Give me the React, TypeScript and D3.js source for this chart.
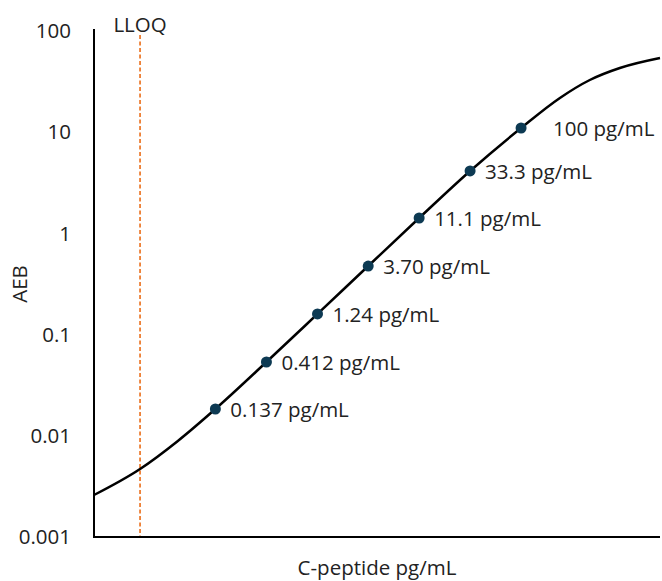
import React, { useRef, useEffect } from 'react';
import * as d3 from 'd3';

// calibrator concentrations (pg/mL) and their AEB
const calConc = [0.137, 0.412, 1.24, 3.70, 11.1, 33.3, 100];
const calLabels = ['0.137 pg/mL', '0.412 pg/mL', '1.24 pg/mL', '3.70 pg/mL', '11.1 pg/mL', '33.3 pg/mL', '100 pg/mL'];
const calAEB = [0.0184, 0.0536, 0.160, 0.476, 1.42, 4.14, 11.0];

// fitted curve
const fitConc = [0.01, 0.027, 0.061, 0.137, 0.412, 1.24, 3.70, 11.1, 33.3, 100, 231, 440, 841, 2000];
const fitAEB = [0.0026, 0.0047, 0.0089, 0.0184, 0.0536, 0.160, 0.476, 1.42, 4.14, 11.0, 21.8, 32.8, 43.1, 54.1];

const lloq = 0.027;

const yTicks = [100, 10, 1, 0.1, 0.01, 0.001];
const yTickLabels = ['100', '10', '1', '0.1', '0.01', '0.001'];

const App = () => {
    const svgRef = useRef<SVGSVGElement>(null);

    useEffect(() => {
        const width = 662;
        const height = 581;
        const margin = { top: 31, right: 2, bottom: 44, left: 94 };
        const font = "'Open Sans', sans-serif";
        const fs = 20.5;

        const svg = d3.select(svgRef.current);
        svg.selectAll('*').remove();

        const x = d3.scaleLog()
            .domain([0.01, 2000])
            .range([margin.left, width - margin.right]);

        const y = d3.scaleLog()
            .domain([0.001, 100])
            .range([height - margin.bottom, margin.top]);

        // y tick labels
        svg.append('g')
            .selectAll('text')
            .data(yTicks)
            .enter()
            .append('text')
            .attr('x', 71)
            .attr('y', d => y(d))
            .attr('dy', '0.35em')
            .attr('text-anchor', 'end')
            .attr('font-family', font)
            .attr('font-size', fs)
            .attr('fill', '#222')
            .text((d, i) => yTickLabels[i]);

        // LLOQ line
        svg.append('line')
            .attr('x1', x(lloq))
            .attr('x2', x(lloq))
            .attr('y1', 35)
            .attr('y2', y(0.001))
            .attr('stroke', '#ed7d31')
            .attr('stroke-width', 1.8)
            .attr('stroke-dasharray', '4,2.5');

        svg.append('text')
            .attr('x', x(lloq))
            .attr('y', 32)
            .attr('text-anchor', 'middle')
            .attr('font-family', font)
            .attr('font-size', fs)
            .attr('fill', '#222')
            .text('LLOQ');

        // fitted curve
        const fit = fitConc.map((c, i) => [x(c), y(fitAEB[i])] as [number, number]);
        svg.append('path')
            .datum(fit)
            .attr('fill', 'none')
            .attr('stroke', '#000')
            .attr('stroke-width', 2.5)
            .attr('d', d3.line().curve(d3.curveMonotoneX));

        // axes
        svg.append('line')
            .attr('x1', margin.left).attr('x2', margin.left)
            .attr('y1', 29).attr('y2', y(0.001) + 1)
            .attr('stroke', '#000').attr('stroke-width', 2);
        svg.append('line')
            .attr('x1', margin.left - 1).attr('x2', width - margin.right)
            .attr('y1', y(0.001)).attr('y2', y(0.001))
            .attr('stroke', '#000').attr('stroke-width', 2);

        // calibrator points
        svg.append('g')
            .selectAll('circle')
            .data(calConc)
            .enter()
            .append('circle')
            .attr('cx', d => x(d))
            .attr('cy', (d, i) => y(calAEB[i]))
            .attr('r', 5.5)
            .attr('fill', '#0d3a53');

        svg.append('g')
            .selectAll('text')
            .data(calConc)
            .enter()
            .append('text')
            .attr('x', (d, i) => x(d) + (i === calConc.length - 1 ? 32 : 15))
            .attr('y', (d, i) => y(calAEB[i]) + 1)
            .attr('dy', '0.35em')
            .attr('font-family', font)
            .attr('font-size', fs)
            .attr('fill', '#222')
            .text((d, i) => calLabels[i]);

        // axis titles
        svg.append('text')
            .attr('transform', `translate(27, ${(margin.top + height - margin.bottom) / 2}) rotate(-90)`)
            .attr('text-anchor', 'middle')
            .attr('font-family', font)
            .attr('font-size', fs)
            .attr('fill', '#222')
            .text('AEB');

        svg.append('text')
            .attr('x', (margin.left + width - margin.right) / 2)
            .attr('y', 575)
            .attr('text-anchor', 'middle')
            .attr('font-family', font)
            .attr('font-size', fs)
            .attr('fill', '#222')
            .text('C-peptide pg/mL');
    }, []);

    return (
        <svg
            ref={svgRef}
            width={662}
            height={581}
            style={{ position: 'absolute', left: 0, top: 0, background: '#fff' }}
        />
    );
};

export default App;
